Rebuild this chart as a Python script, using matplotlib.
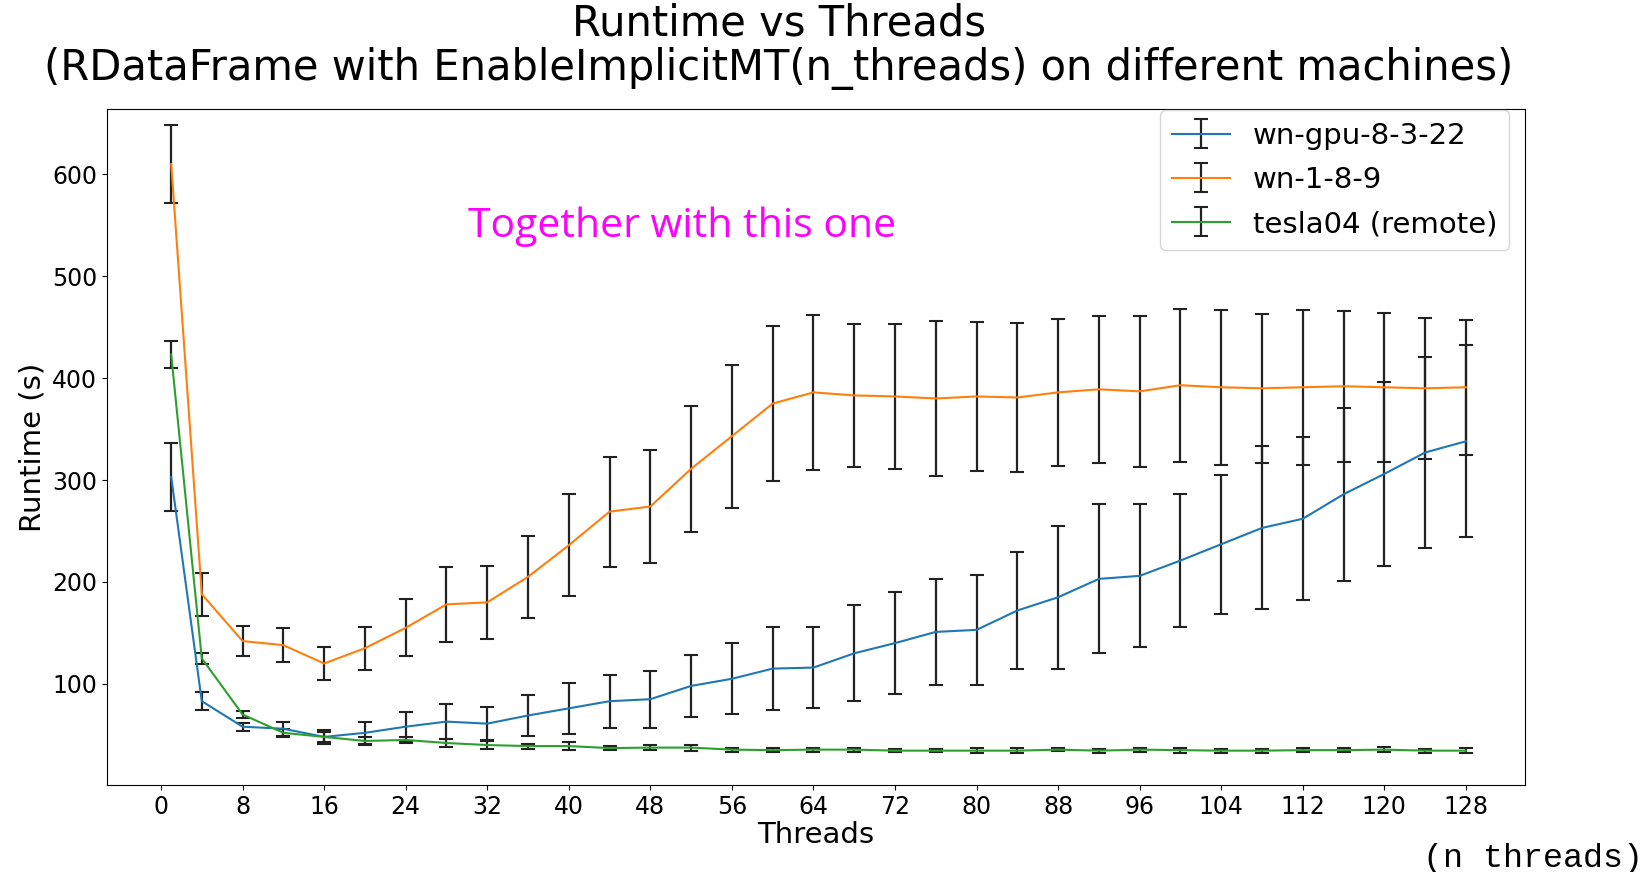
import matplotlib
matplotlib.use("Agg")
import matplotlib.pyplot as plt

# thread counts used in the scan
threads = [1, 4, 8, 12, 16, 20, 24, 28, 32, 36, 40, 44, 48, 52, 56, 60, 64,
           68, 72, 76, 80, 84, 88, 92, 96, 100, 104, 108, 112, 116, 120, 124, 128]

# wn-gpu-8-3-22
gpu_mean = [303, 83, 58, 56, 48, 52, 58, 63, 61, 69, 76, 83, 85, 98, 105, 115, 116,
            130, 140, 151, 153, 172, 185, 203, 206, 221, 237, 253, 262, 286, 306, 327, 338]
gpu_err = [33, 9, 4, 7, 7, 11, 14, 17, 16, 20, 25, 26, 28, 30, 35, 41, 40,
           47, 50, 52, 54, 57, 70, 73, 70, 65, 68, 80, 80, 85, 90, 94, 94]

# wn-1-8-9
wn_mean = [610, 188, 142, 138, 120, 135, 155, 178, 180, 205, 236, 269, 274, 311, 343, 375, 386,
           383, 382, 380, 382, 381, 386, 389, 387, 393, 391, 390, 391, 392, 391, 390, 391]
wn_err = [38, 21, 15, 17, 16, 21, 28, 37, 36, 40, 50, 54, 55, 62, 70, 76, 76,
          70, 71, 76, 73, 73, 72, 72, 74, 75, 76, 73, 76, 74, 73, 69, 66]

# tesla04 (remote)
tesla_mean = [423, 125, 70, 52, 48, 44, 45, 42, 40, 39, 39, 37, 37.5, 37.5, 35.5, 35, 35.5,
              35.5, 34.5, 34.5, 34.5, 34.5, 35.5, 34.5, 35.5, 35, 34.5, 34.5, 35, 35, 35.5, 34.5, 34.5]
tesla_err = [13.5, 5, 3, 4, 5, 4, 3, 4, 3.5, 2.5, 4, 2, 2.5, 3, 2, 2, 2,
             2, 1.5, 1.5, 2.5, 2.5, 1.5, 2, 2, 2.5, 2, 2, 2, 2, 2.5, 2, 2.5]

xticks = list(range(0, 129, 8))

fig = plt.figure(figsize=(16.46, 8.72), dpi=100)
ax = fig.add_axes([0.065, 0.1, 0.8615, 0.775])

err_kw = dict(ecolor='#222222', elinewidth=1.6, capsize=5, capthick=1.5)
ax.errorbar(threads, gpu_mean, yerr=gpu_err, color='#1f77b4', label='wn-gpu-8-3-22', **err_kw)
ax.errorbar(threads, wn_mean, yerr=wn_err, color='#ff7f0e', label='wn-1-8-9', **err_kw)
ax.errorbar(threads, tesla_mean, yerr=tesla_err, color='#2ca02c', label='tesla04 (remote)', **err_kw)

ax.set_xticks(xticks)
ax.set_xlim(-5.3, 133.8)
ax.set_ylim(1, 664)
ax.tick_params(labelsize=17)
ax.set_xlabel('Threads', fontsize=21, labelpad=2)
ax.set_ylabel('Runtime (s)', fontsize=21)
ax.legend(loc='upper right', bbox_to_anchor=(0.989, 0.998), borderaxespad=0,
          fontsize=21, labelspacing=0.55)

fig.text(0.473, 0.997, 'Runtime vs Threads\n(RDataFrame with EnableImplicitMT(n_threads) on different machines)',
         ha='center', va='top', fontsize=30, linespacing=1.08)

# annotations added on top of the plot
fig.text(0.2845, 0.728, 'Together with this one', color='#ff00ff', fontsize=29.5,
         family='Open Sans', ha='left', va='baseline')
fig.text(0.998, 0.0057, '(n threads)', fontsize=24, family='Liberation Mono',
         ha='right', va='baseline')

fig.savefig('out.png', dpi=100)
